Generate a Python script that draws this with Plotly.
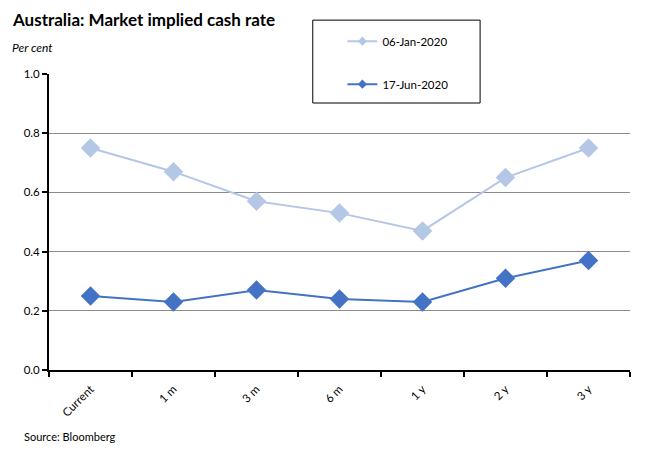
import plotly.graph_objects as go

# data ------------------------------------------------------------------
tenors = ["Current", "1 m", "3 m", "6 m", "1 y", "2 y", "3 y"]
jan_2020 = [0.75, 0.67, 0.57, 0.53, 0.47, 0.65, 0.75]
jun_2020 = [0.25, 0.23, 0.27, 0.24, 0.23, 0.31, 0.37]
y_ticks = [0.0, 0.2, 0.4, 0.6, 0.8, 1.0]
y_labels = ["0.0", "0.2", "0.4", "0.6", "0.8", "1.0"]

font_name = "Lato"
light = "#B4C7E7"
dark = "#4472C4"

fig = go.Figure()
fig.add_trace(go.Scatter(x=tenors, y=jan_2020, name="06-Jan-2020", mode="lines+markers",
                         line=dict(color=light, width=2),
                         marker=dict(symbol="diamond", size=15, color=light),
                         showlegend=False))
fig.add_trace(go.Scatter(x=tenors, y=jun_2020, name="17-Jun-2020", mode="lines+markers",
                         line=dict(color=dark, width=2),
                         marker=dict(symbol="diamond", size=15, color=dark),
                         showlegend=False))
# legend entries with small markers, like the excel legend
fig.add_trace(go.Scatter(x=[None], y=[None], name="06-Jan-2020", mode="lines+markers",
                         line=dict(color=light, width=2),
                         marker=dict(symbol="diamond", size=7, color=light), legendgroup="a"))
fig.add_trace(go.Scatter(x=[None], y=[None], name="17-Jun-2020", mode="lines+markers",
                         line=dict(color=dark, width=2),
                         marker=dict(symbol="diamond", size=7, color=dark), legendgroup="b"))

# legend box
fig.add_shape(type="rect", xref="paper", yref="paper", x0=0.454, x1=0.742, y0=0.902, y1=1.182,
              line=dict(color="black", width=1), fillcolor="white", layer="below")

fig.update_layout(
    width=634, height=439,
    margin=dict(l=41, r=12, t=66, b=77),
    plot_bgcolor="white", paper_bgcolor="white",
    font=dict(family=font_name, size=11, color="black"),
    showlegend=True,
    legend=dict(x=0.505, y=1.16, xanchor="left", yanchor="top", bgcolor="rgba(0,0,0,0)",
                tracegroupgap=24, font=dict(size=11.5), itemwidth=30),
    xaxis=dict(range=[-0.5, 6.5], showline=True, linecolor="black", linewidth=2,
               ticks="outside", tickson="boundaries", ticklen=5, tickcolor="black", tickwidth=2,
               tickangle=-45, showgrid=False, tickfont=dict(size=11.5), ticklabelstandoff=6),
    yaxis=dict(range=[0, 1.0], tickvals=y_ticks, ticktext=y_labels, showline=True,
               linecolor="black", linewidth=2, ticks="outside", ticklen=5, tickcolor="black",
               tickwidth=2, showgrid=True, gridcolor="#8C8C8C", gridwidth=1, zeroline=False,
               tickfont=dict(size=11.5)),
)

fig.add_annotation(text="<b>Australia: Market implied cash rate</b>", xref="paper", yref="paper",
                   x=-0.067, y=1.185, xanchor="left", yanchor="middle", showarrow=False,
                   font=dict(size=17, family=font_name))
fig.add_annotation(text="<i>Per cent</i>", xref="paper", yref="paper",
                   x=-0.067, y=1.091, xanchor="left", yanchor="middle", showarrow=False,
                   font=dict(size=12, family=font_name))
fig.add_annotation(text="Source: Bloomberg", xref="paper", yref="paper",
                   x=-0.046, y=-0.223, xanchor="left", yanchor="middle", showarrow=False,
                   font=dict(size=11, family=font_name))

fig.write_html("out.html")
